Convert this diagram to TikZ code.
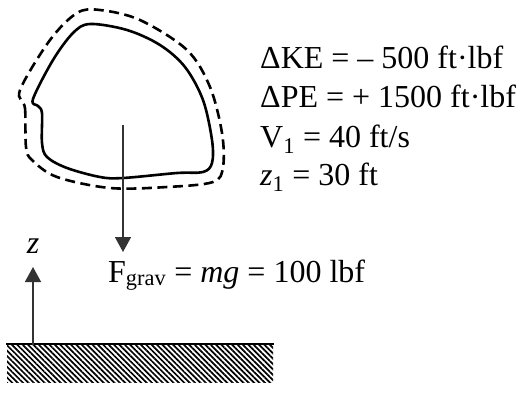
\documentclass[tikz,border=0pt]{standalone}
\usepackage{fontspec}
\setmainfont{Liberation Serif}
\usetikzlibrary{arrows.meta,patterns.meta}
\begin{document}
\begin{tikzpicture}[x=1pt, y=-1pt,
    every node/.style={font=\fontsize{32}{39}\selectfont, inner sep=0pt},
    eqn/.style={anchor=base west},
    boundary/.style={line width=2.6pt, line join=round},
    surface/.style={line width=2.6pt, dash pattern=on 10pt off 5.5pt},
    vec/.style={-{Triangle[length=15pt,width=16pt]}, line width=1.5pt, black!80},
    groundbox/.style={pattern={Lines[angle=-45,distance=3.8pt,line width=1.7pt]}, minimum width=266pt, minimum height=37pt}
]
\useasboundingbox (0,0) rectangle (518,392);

% system and its control surface
\draw[boundary] plot[smooth cycle, tension=0.55] coordinates {
    (33,99) (38,106) (42,113) (42,143) (47,157) (67,168) (100,177) (123,178)
    (177,173) (203,172) (212,163) (212,140) (203,100) (185,67) (160,45)
    (127,30) (90,24) (73,33) (53,60)};
\draw[surface] plot[smooth cycle, tension=0.55] coordinates {
    (20,90) (25,108) (26,147) (32,160) (57,177) (110,188) (167,187)
    (213,182) (223,167) (222,133) (210,87) (187,50) (140,20) (100,10)
    (77,13) (50,40)};

% given data
\node[eqn] (dke)  at (260,68)  {ΔKE = – 500 ft·lbf};
\node[eqn] (dpe)  at (260,107) {ΔPE = + 1500 ft·lbf};
\node[eqn] (vone) at (260,147) {V\textsubscript{1} = 40 ft/s};
\node[eqn] (zone) at (260,185) {\textit{z}\textsubscript{1} = 30 ft};

% weight
\coordinate (cg)   at (123,125);
\coordinate (gtip) at (123,252);
\draw[vec] (cg) -- (gtip);
\node[eqn] (fgrav) at (108,282) {F\textsubscript{grav} = \textit{mg} = 100 lbf};

% ground and datum
\node[groundbox] (ground) at (140,363.5) {};
\draw[line width=1.8pt] (ground.north west) -- (ground.north east);
\coordinate (zfoot) at (33,345);
\coordinate (ztip)  at (33,267);
\draw[vec] (zfoot) -- (ztip);
\node[anchor=base] (zlbl) at (33,253) {\textit{z}};
\end{tikzpicture}
\end{document}
